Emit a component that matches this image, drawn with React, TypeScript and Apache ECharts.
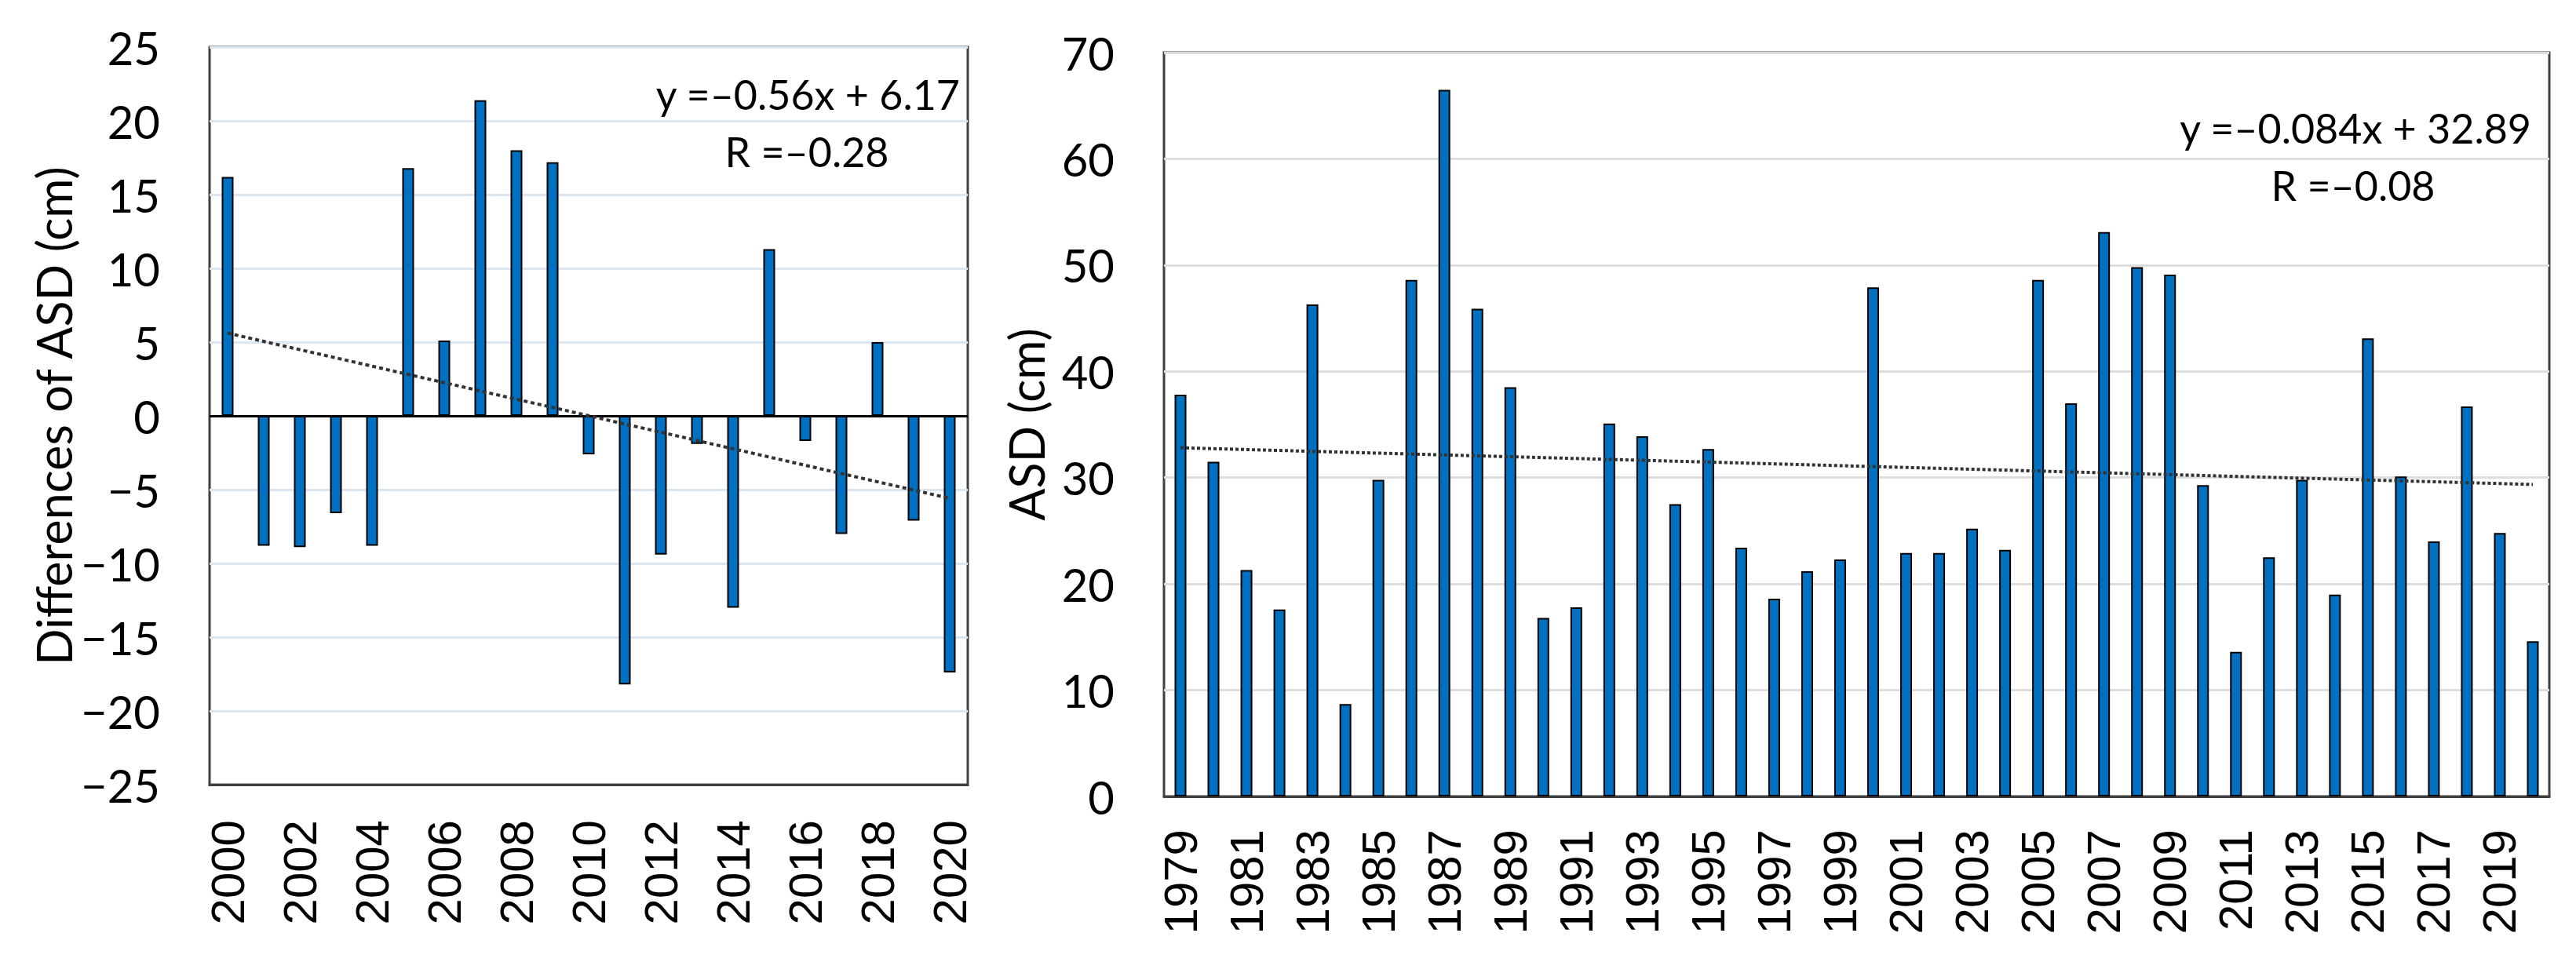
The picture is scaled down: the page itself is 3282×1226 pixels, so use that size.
import React, { useEffect, useRef } from "react";
import * as echarts from "echarts";

// Left panel: differences of ASD (cm), 2000–2020
const leftYears = ["2000", "2001", "2002", "2003", "2004", "2005", "2006", "2007", "2008", "2009", "2010",
  "2011", "2012", "2013", "2014", "2015", "2016", "2017", "2018", "2019", "2020"];
const leftValues = [16.2, -8.8, -8.9, -6.6, -8.8, 16.8, 5.1, 21.4, 18.0, 17.2, -2.6,
  -18.2, -9.4, -1.9, -13.0, 11.3, -1.7, -8.0, 5.0, -7.1, -17.4];
const leftTrendEnds = [5.61, -5.59];
const leftEquation = "y =–0.56x + 6.17";
const leftR = "R =–0.28";

// Right panel: ASD (cm), 1979–2020
const rightYears = ["1979", "1980", "1981", "1982", "1983", "1984", "1985", "1986", "1987", "1988", "1989",
  "1990", "1991", "1992", "1993", "1994", "1995", "1996", "1997", "1998", "1999", "2000", "2001", "2002",
  "2003", "2004", "2005", "2006", "2007", "2008", "2009", "2010", "2011", "2012", "2013", "2014", "2015",
  "2016", "2017", "2018", "2019", "2020"];
const rightValues = [37.8, 31.5, 21.3, 17.6, 46.3, 8.7, 29.8, 48.6, 66.5, 45.9, 38.5,
  16.8, 17.8, 35.1, 33.9, 27.5, 32.7, 23.4, 18.6, 21.2, 22.3, 47.9, 22.9, 22.9,
  25.2, 23.2, 48.6, 37.0, 53.1, 49.8, 49.1, 29.3, 13.6, 22.5, 29.8, 19.0, 43.1,
  30.1, 24.0, 36.7, 24.8, 14.6];
const rightTrendEnds = [32.81, 29.36];
const rightEquation = "y =–0.084x + 32.89";
const rightR = "R =–0.08";

const BAR_BLUE = "#0070C0";
const FONT = "Lato";
const XFONT = "Liberation Sans";

export default function App() {
  const ref = useRef<HTMLDivElement>(null);
  useEffect(() => {
    document.body.style.margin = "0";
    if (!ref.current) return;
    const chart = echarts.init(ref.current, undefined, { renderer: "svg" });
    const yLabelFmt = (v: number) => (v < 0 ? "−" + Math.abs(v) : String(v));
    const option: any = {
      animation: false,
      backgroundColor: "#ffffff",
      grid: [
        { left: 267, top: 60, width: 966, height: 940, show: true, borderColor: "#404040", borderWidth: 3, backgroundColor: "#fff" },
        { left: 1483, top: 67, width: 1765, height: 948, show: true, borderColor: "#404040", borderWidth: 3, backgroundColor: "#fff" },
      ],
      xAxis: [
        {
          type: "category", gridIndex: 0, data: leftYears,
          axisLine: { show: true, onZero: false, lineStyle: { color: "#404040", width: 3 } },
          axisTick: { show: false },
          axisLabel: { rotate: 90, interval: 1, fontSize: 60, fontFamily: XFONT, color: "#000", margin: 45 },
        },
        {
          type: "category", gridIndex: 1, data: rightYears,
          axisLine: { show: true, onZero: false, lineStyle: { color: "#404040", width: 3 } },
          axisTick: { show: false },
          axisLabel: { rotate: 90, interval: 1, fontSize: 60, fontFamily: XFONT, color: "#000", margin: 42 },
        },
      ],
      yAxis: [
        {
          type: "value", gridIndex: 0, min: -25, max: 25, interval: 5,
          name: "Differences of ASD (cm)", nameLocation: "middle", nameGap: 168,
          nameTextStyle: { fontSize: 61, fontFamily: FONT, color: "#000" },
          axisLine: { show: false }, axisTick: { show: false },
          axisLabel: { fontSize: 58, fontFamily: FONT, color: "#000", margin: 63, formatter: yLabelFmt },
          splitLine: { show: true, lineStyle: { color: "#dce6f2", width: 3 } },
        },
        {
          type: "value", gridIndex: 1, min: 0, max: 70, interval: 10,
          name: "ASD (cm)", nameLocation: "middle", nameGap: 145,
          nameTextStyle: { fontSize: 61, fontFamily: FONT, color: "#000" },
          axisLine: { show: false }, axisTick: { show: false },
          axisLabel: { fontSize: 58, fontFamily: FONT, color: "#000", margin: 63 },
          splitLine: { show: true, lineStyle: { color: "#dedede", width: 3 } },
        },
      ],
      series: [
        {
          type: "bar", xAxisIndex: 0, yAxisIndex: 0, data: leftValues, barWidth: 15,
          itemStyle: { color: BAR_BLUE, borderColor: "#000", borderWidth: 2 },
          markLine: {
            silent: true, symbol: ["none", "none"], label: { show: false },
            lineStyle: { color: "#000", width: 3, type: "solid" },
            data: [{ yAxis: 0 }],
          },
          z: 2,
        },
        {
          type: "line", xAxisIndex: 0, yAxisIndex: 0,
          data: [[leftYears[0], leftTrendEnds[0]], [leftYears[leftYears.length - 1], leftTrendEnds[1]]],
          symbol: "none", lineStyle: { color: "#333333", width: 4, type: [5, 4] }, z: 5,
        },
        {
          type: "bar", xAxisIndex: 1, yAxisIndex: 1, data: rightValues, barWidth: 15,
          itemStyle: { color: BAR_BLUE, borderColor: "#000", borderWidth: 2 }, z: 2,
        },
        {
          type: "line", xAxisIndex: 1, yAxisIndex: 1,
          data: [[rightYears[0], rightTrendEnds[0]], [rightYears[rightYears.length - 1], rightTrendEnds[1]]],
          symbol: "none", lineStyle: { color: "#333333", width: 4, type: [4, 3] }, z: 5,
        },
      ],
      graphic: [
        { type: "text", x: 1223, y: 120, style: { text: leftEquation, font: `52px ${FONT}`, fill: "#000", textAlign: "right", textVerticalAlign: "middle" }, z: 10 },
        { type: "text", x: 1028, y: 193, style: { text: leftR, font: `52px ${FONT}`, fill: "#000", textAlign: "center", textVerticalAlign: "middle" }, z: 10 },
        { type: "text", x: 3225, y: 163, style: { text: rightEquation, font: `52px ${FONT}`, fill: "#000", textAlign: "right", textVerticalAlign: "middle" }, z: 10 },
        { type: "text", x: 2998, y: 236, style: { text: rightR, font: `52px ${FONT}`, fill: "#000", textAlign: "center", textVerticalAlign: "middle" }, z: 10 },
      ],
    };
    chart.setOption(option);
    return () => chart.dispose();
  }, []);
  return <div ref={ref} style={{ width: 3282, height: 1226 }} />;
}
